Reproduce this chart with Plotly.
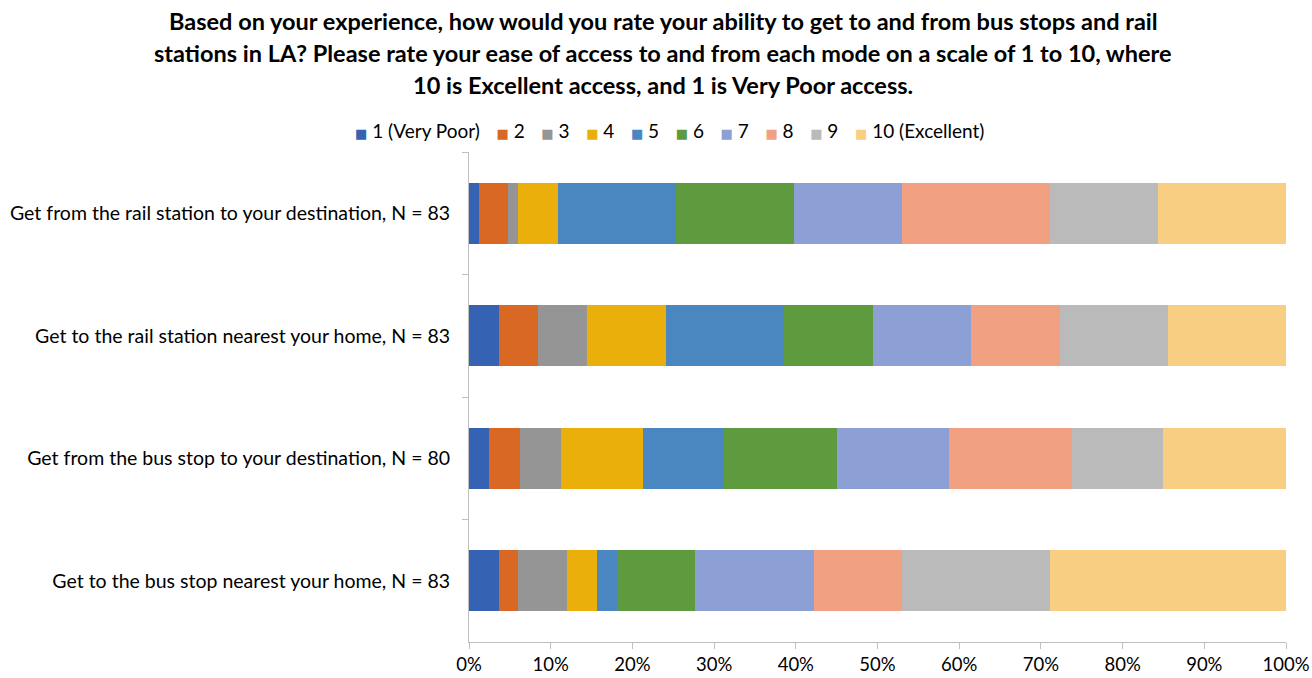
import plotly.graph_objects as go

# Survey responses (counts per rating) for each access question
categories = [
    "Get from the rail station to your destination, N = 83",
    "Get to the rail station nearest your home, N = 83",
    "Get from the bus stop to your destination, N = 80",
    "Get to the bus stop nearest your home, N = 83",
]
rating_labels = ["1 (Very Poor)", "2", "3", "4", "5", "6", "7", "8", "9", "10 (Excellent)"]

rating_1 = [1, 3, 2, 3]
rating_2 = [3, 4, 3, 2]
rating_3 = [1, 5, 4, 5]
rating_4 = [4, 8, 8, 3]
rating_5 = [12, 12, 8, 2]
rating_6 = [12, 9, 11, 8]
rating_7 = [11, 10, 11, 12]
rating_8 = [15, 9, 12, 9]
rating_9 = [11, 11, 9, 15]
rating_10 = [13, 12, 12, 24]

series = [rating_1, rating_2, rating_3, rating_4, rating_5,
          rating_6, rating_7, rating_8, rating_9, rating_10]

colors = ["#3562B2", "#DA6825", "#959595", "#EBAF0C", "#4A87C1",
          "#5E9B3E", "#8CA0D6", "#F1A182", "#BABABA", "#F8CF82"]

tick_values = [0, 10, 20, 30, 40, 50, 60, 70, 80, 90, 100]
tick_text = ["0%", "10%", "20%", "30%", "40%", "50%", "60%", "70%", "80%", "90%", "100%"]

title_lines = [
    "Based on your experience, how would you rate your ability to get to and from bus stops and rail",
    "stations in LA? Please rate your ease of access to and from each mode on a scale of 1 to 10, where",
    "10 is Excellent access, and 1 is Very Poor access.",
]

FONT = "Lato"
W, H = 1312, 678
M_L, M_R, M_T, M_B = 469, 26, 152, 36

fig = go.Figure()
for label, values, color in zip(rating_labels, series, colors):
    fig.add_trace(go.Bar(
        y=categories,
        x=values,
        name=label,
        orientation="h",
        marker=dict(color=color, line=dict(width=0)),
        hoverinfo="name+x",
    ))

fig.update_layout(
    barmode="stack",
    barnorm="percent",
    bargap=0.5,
    width=W,
    height=H,
    margin=dict(l=M_L, r=M_R, t=M_T, b=M_B, autoexpand=False),
    paper_bgcolor="white",
    plot_bgcolor="white",
    font=dict(family=FONT, size=19, color="#000000"),
    showlegend=False,
    xaxis=dict(
        range=[0, 100],
        tickvals=tick_values,
        ticktext=tick_text,
        ticks="outside",
        ticklen=6,
        tickcolor="#BFBFBF",
        showline=True,
        linecolor="#BFBFBF",
        linewidth=1,
        showgrid=False,
        zeroline=False,
        automargin=False,
        ticklabelstandoff=0,
        tickfont=dict(family=FONT, size=18.5, color="#000000"),
        fixedrange=True,
    ),
    yaxis=dict(
        autorange="reversed",
        ticks="outside",
        tickson="boundaries",
        ticklen=6,
        tickcolor="#BFBFBF",
        showline=True,
        linecolor="#BFBFBF",
        linewidth=1,
        showgrid=False,
        automargin=False,
        ticklabelstandoff=14,
        tickfont=dict(family=FONT, size=19.5, color="#000000"),
    ),
)

plot_w = W - M_L - M_R
title_x = (663 - M_L) / plot_w

# Three-line bold title, one annotation per line for wider line spacing
for i, line in enumerate(title_lines):
    fig.add_annotation(
        text="<b>" + line + "</b>",
        xref="paper", yref="paper",
        x=title_x, y=1,
        xanchor="center", yanchor="middle",
        yshift=(M_T - 21) - 32 * i,
        showarrow=False,
        font=dict(family=FONT, size=23.5, color="#000000"),
    )

# Compact horizontal legend: coloured square followed by the rating label
legend_parts = []
for label, color in zip(rating_labels, colors):
    legend_parts.append(
        '<span style="color:%s;font-size:13px;font-family:DejaVu Sans">\u25A0</span> %s' % (color, label)
    )
legend_text = "\u2003\u2009".join(legend_parts)
fig.add_annotation(
    text=legend_text,
    xref="paper", yref="paper",
    x=(669 - M_L) / plot_w, y=1,
    xanchor="center", yanchor="middle",
    yshift=M_T - 130,
    showarrow=False,
    font=dict(family=FONT, size=19, color="#000000"),
)

fig.write_html("out.html")
